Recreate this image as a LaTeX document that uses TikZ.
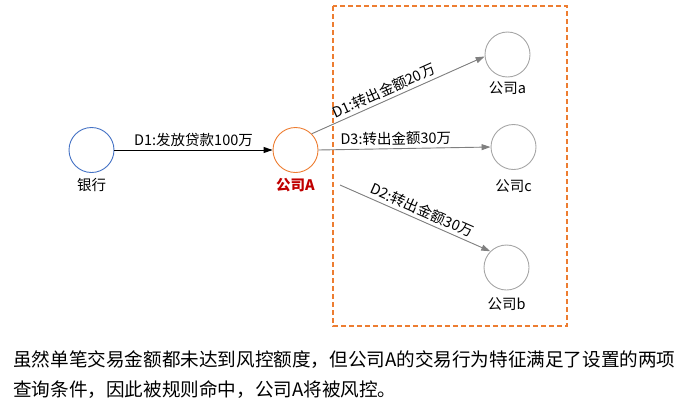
\documentclass[tikz,border=0pt]{standalone}
\usepackage{fontspec}
\setmainfont{Noto Sans CJK SC}
\usetikzlibrary{arrows.meta}
\definecolor{bankblue}{HTML}{4472C4}
\definecolor{orng}{HTML}{ED7D31}
\definecolor{cgray}{HTML}{A6A6A6}
\definecolor{agray}{HTML}{808080}
\definecolor{dred}{HTML}{C00000}
\begin{document}
\begin{tikzpicture}[x=1pt,y=-1pt,
  circ/.style={circle,draw,line width=0.9pt,minimum size=45pt,inner sep=0pt},
  lbl/.style={font=\fontsize{14.5}{16}\selectfont,inner sep=0pt},
  elbl/.style={font=\fontsize{14.5}{16}\selectfont,inner sep=3pt},
  garrow/.style={draw=agray,line width=0.9pt,-{Triangle[length=9pt,width=6pt]},fill=agray},
  barrow/.style={draw=black,line width=0.9pt,-{Triangle[length=9pt,width=6pt]}},
  body/.style={font=\fontsize{18.6}{22}\selectfont,inner sep=0pt,anchor=west}]
\useasboundingbox (0,0) rectangle (690,418);
\node[circ,draw=bankblue] (bank) at (91.5,150) {};
\node[circ,draw=orng] (A) at (295.5,150) {};
\node[circ,draw=cgray] (a) at (507.5,54.5) {};
\node[circ,draw=cgray] (c) at (513.5,147) {};
\node[circ,draw=cgray] (b) at (506.5,267.5) {};
\node[lbl] (bankl) at (91.5,185) {银行};
\node[lbl,text=dred,font=\fontsize{14.5}{16}\selectfont\bfseries] (Al) at (295.5,185) {公司A};
\node[lbl] (al) at (507.5,88) {公司a};
\node[lbl] (cl) at (513.5,186) {公司c};
\node[lbl] (bl) at (506.5,304) {公司b};
\draw[orng,line width=1.3pt,dash pattern=on 5pt off 3pt] (333,6) rectangle (567,326);
\draw[barrow] (bank.east) -- node[elbl,above,pos=0.5] {D1:发放贷款100万} (A.west);
\draw[garrow] (A.north east) -- node[elbl,above,sloped,pos=0.44] {D1:转出金额20万} (a.185);
\draw[garrow] (A.east) -- node[elbl,above,sloped,pos=0.45] {D3:转出金额30万} (c.west);
\coordinate (bs) at (340,185);
\draw[garrow] (bs) -- node[elbl,above,sloped,pos=0.52] {D2:转出金额30万} (b.north west);
\node[body] (t1) at (13,360) {虽然单笔交易金额都未达到风控额度，但公司A的交易行为特征满足了设置的两项};
\node[body] (t2) at (13,390) {查询条件，因此被规则命中，公司A将被风控。};
\end{tikzpicture}
\end{document}
